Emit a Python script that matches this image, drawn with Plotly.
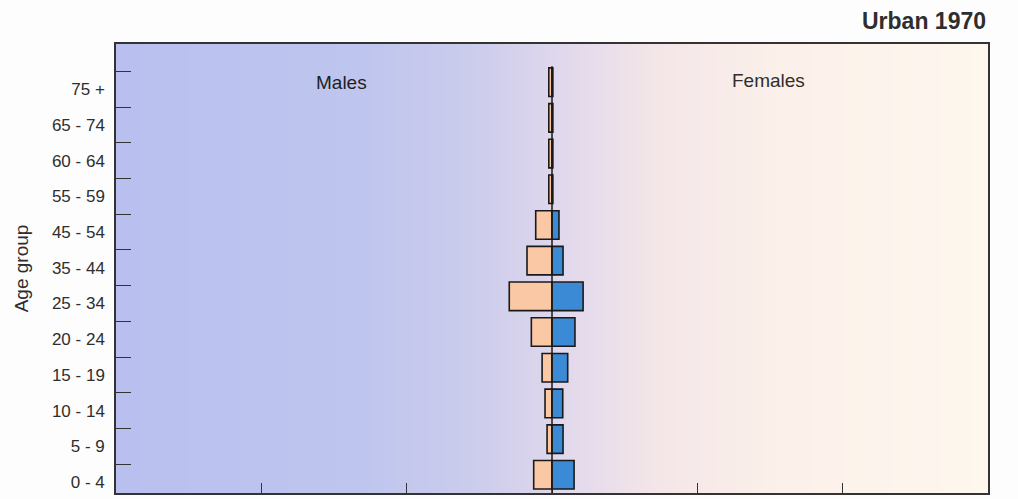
import numpy as np
import plotly.graph_objects as go

# Age groups, youngest first (bottom of the pyramid)
age_groups = ["0 - 4", "5 - 9", "10 - 14", "15 - 19", "20 - 24", "25 - 34",
              "35 - 44", "45 - 54", "55 - 59", "60 - 64", "65 - 74", "75 +"]
# Share of the population (%) by sex
males = [0.63, 0.17, 0.24, 0.34, 0.71, 1.47, 0.86, 0.56, 0.11, 0.11, 0.11, 0.11]
females = [0.76, 0.38, 0.37, 0.54, 0.79, 1.07, 0.38, 0.24, 0.03, 0.03, 0.03, 0.03]

FONT = "Liberation Sans, Arial, Helvetica, sans-serif"
X_MAX = 15
Y_RANGE = [-0.31, 12.27]
pos = list(range(len(age_groups)))

fig = go.Figure()

# Background wash: lavender blue on the male side fading to cream on the female side
gx = np.linspace(-X_MAX, X_MAX, 121)
fig.add_trace(go.Heatmap(
    x=gx, y=[Y_RANGE[0] - 1, Y_RANGE[1] + 1], z=[gx, gx],
    zsmooth="best", showscale=False, hoverinfo="skip",
    colorscale=[[0.0, "#b9c0ef"], [0.28, "#bec5ee"], [0.42, "#cdcdec"],
                [0.52, "#e2d9ec"], [0.62, "#f4e6e8"], [0.78, "#fcf1ea"],
                [1.0, "#fdf7ee"]],
))

bar_line = dict(color="#1a1a1a", width=1.6)
fig.add_trace(go.Bar(
    y=pos, x=[-v for v in males], orientation="h", name="Males",
    marker=dict(color="#fbc8a6", line=bar_line), width=0.8, offset=-0.2,
))
fig.add_trace(go.Bar(
    y=pos, x=females, orientation="h", name="Females",
    marker=dict(color="#3a8ad6", line=bar_line), width=0.8, offset=-0.2,
))

# centre divider between the two halves
fig.add_shape(type="line", x0=0, x1=0, y0=Y_RANGE[0], y1=11.65, xref="x", yref="y",
              line=dict(color="#1a1a1a", width=1.5), layer="above")

fig.add_annotation(text="<b>Urban 1970</b>", xref="paper", yref="paper",
                   x=1.0, y=1.0, xanchor="right", yanchor="bottom", yshift=8,
                   showarrow=False, font=dict(size=23, color="#2e2e2e", family=FONT))
fig.add_annotation(text="Males", x=-7.25, y=11.18, showarrow=False,
                   font=dict(size=19, color="#1f1f1f", family=FONT))
fig.add_annotation(text="Females", x=7.45, y=11.26, showarrow=False,
                   font=dict(size=19, color="#2e2e2e", family=FONT))

fig.update_layout(
    width=1018, height=499,
    margin=dict(l=116, r=30, t=44, b=6),
    paper_bgcolor="#fdfdfd", plot_bgcolor="#fdfdfd",
    barmode="overlay", showlegend=False,
    font=dict(family=FONT, color="#2e2e2e"),
    xaxis=dict(range=[-X_MAX, X_MAX], dtick=5, ticks="inside", ticklen=10,
               tickcolor="#333333", tickwidth=1.2, showticklabels=False,
               showgrid=False, zeroline=False, showline=True, mirror=True,
               linecolor="#333333", linewidth=1.5),
    yaxis=dict(range=Y_RANGE, tickvals=pos, ticktext=age_groups, ticks="",
               tickfont=dict(size=17, color="#2e2e2e"), ticklabelstandoff=6,
               minor=dict(tickvals=[p + 0.5 for p in pos], ticks="inside",
                          ticklen=15, tickcolor="#333333", tickwidth=1.2),
               showgrid=False, zeroline=False, showline=True, mirror=True,
               linecolor="#333333", linewidth=1.5,
               title=dict(text="Age group", font=dict(size=19, color="#2e2e2e"),
                          standoff=18)),
)

fig.write_html("out.html")
